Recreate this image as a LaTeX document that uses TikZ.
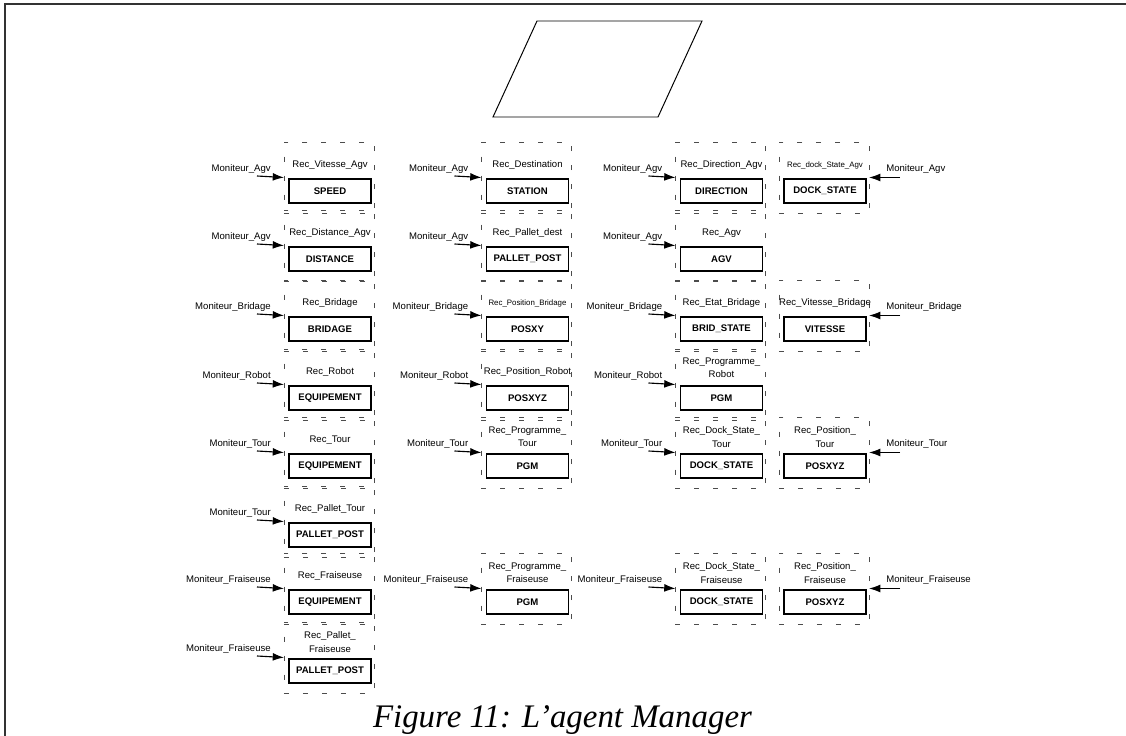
\documentclass[tikz,border=0pt]{standalone}
\usepackage{fontspec}
\setmainfont{Liberation Serif}
\setsansfont{Liberation Sans}
\usetikzlibrary{calc,arrows.meta}

% one receiver: inner state box, dashed receiver frame and its title
% #1 title offset, #2 name, #3 x, #4 y, #5 title, #6 state
\newcommand{\recv}[6][26]{%
  \node[core] (#2) at (#3,#4) {#6};
  \node[frame] (#2-f) at (#3-1,#4-13.5) {};
  \node[rtitle] (#2-t) at (#3,#4-#1) {#5};
}
% monitor feeding a receiver from the left
\newcommand{\monL}[2]{%
  \coordinate (#1-s) at ($(#1-f.west)+(-27,-1.5)$);
  \node[mon, anchor=south east] (#1-m) at ($(#1-f.west)+(-13,-4)$) {#2};
  \draw[feed] (#1-s) -- (#1-f.west);
}
% monitor feeding a receiver from the right
\newcommand{\monR}[2]{%
  \coordinate (#1-s) at ($(#1-f.east)+(31,0)$);
  \node[mon, anchor=south west] (#1-m) at ($(#1-f.east)+(17,-4)$) {#2};
  \draw[feed] (#1-s) -- (#1-f.east);
}

\begin{document}
\begin{tikzpicture}[x=0.025cm, y=-0.025cm,
  core/.style={draw, line width=1pt, minimum width=2.05cm, minimum height=0.6cm,
    inner sep=0pt, outer sep=0pt, font=\sffamily\bfseries\fontsize{6.8}{8}\selectfont},
  frame/.style={draw=black!70, line width=0.6pt, dash pattern=on 3.5pt off 10pt,
    minimum width=2.25cm, minimum height=1.775cm, inner sep=0pt, outer sep=0pt},
  rtitle/.style={inner sep=0pt, align=center, font=\sffamily\fontsize{6.8}{9.6}\selectfont},
  mon/.style={inner sep=0pt, font=\sffamily\fontsize{6.8}{8}\selectfont},
  feed/.style={line width=0.8pt, -{Latex[length=8pt, width=5.6pt]}}]
\useasboundingbox (0,0) rectangle (1126,736);
\fill[white] (0,0) rectangle (1126,736);

% page frame
\draw[line width=1.4pt, black!80] (5,736) -- (5,4) -- (1126,4);

% data symbol at the top
\draw[line width=0.7pt] (537,21) -- (702,21) -- (658,117) -- (493,117) -- cycle;

% row 1 : AGV
\recv{speed}{330}{191}{Rec\_Vitesse\_Agv}{SPEED}
\recv{station}{527.5}{191}{Rec\_Destination}{STATION}
\recv{direction}{721.5}{191}{Rec\_Direction\_Agv}{DIRECTION}
\recv{dockagv}{825}{191}{{\fontsize{5.6}{7}\selectfont Rec\_dock\_State\_Agv}}{DOCK\_STATE}
\monL{speed}{Moniteur\_Agv}
\monL{station}{Moniteur\_Agv}
\monL{direction}{Moniteur\_Agv}
\monR{dockagv}{Moniteur\_Agv}

% row 2 : AGV
\recv{distance}{330}{259}{Rec\_Distance\_Agv}{DISTANCE}
\recv{palletagv}{527.5}{259}{Rec\_Pallet\_dest}{PALLET\_POST}
\recv{agv}{721.5}{259}{Rec\_Agv}{AGV}
\monL{distance}{Moniteur\_Agv}
\monL{palletagv}{Moniteur\_Agv}
\monL{agv}{Moniteur\_Agv}

% row 3 : bridage
\recv{bridage}{330}{329}{Rec\_Bridage}{BRIDAGE}
\recv{posxy}{527.5}{329}{{\fontsize{5.6}{7}\selectfont Rec\_Position\_Bridage}}{POSXY}
\recv{bridstate}{721.5}{329}{Rec\_Etat\_Bridage}{BRID\_STATE}
\recv{vitesse}{825}{329}{Rec\_Vitesse\_Bridage}{VITESSE}
\monL{bridage}{Moniteur\_Bridage}
\monL{posxy}{Moniteur\_Bridage}
\monL{bridstate}{Moniteur\_Bridage}
\monR{vitesse}{Moniteur\_Bridage}

% row 4 : robot
\recv{equiprobot}{330}{398}{Rec\_Robot}{EQUIPEMENT}
\recv{posrobot}{527.5}{398}{Rec\_Position\_Robot}{POSXYZ}
\recv[30]{pgmrobot}{721.5}{398}{Rec\_Programme\_\\Robot}{PGM}
\monL{equiprobot}{Moniteur\_Robot}
\monL{posrobot}{Moniteur\_Robot}
\monL{pgmrobot}{Moniteur\_Robot}

% row 5 : tour
\recv{equiptour}{330}{466}{Rec\_Tour}{EQUIPEMENT}
\recv[29]{pgmtour}{527.5}{466}{Rec\_Programme\_\\Tour}{PGM}
\recv[29]{docktour}{721.5}{466}{Rec\_Dock\_State\_\\Tour}{DOCK\_STATE}
\recv[29]{postour}{825}{466}{Rec\_Position\_\\Tour}{POSXYZ}
\monL{equiptour}{Moniteur\_Tour}
\monL{pgmtour}{Moniteur\_Tour}
\monL{docktour}{Moniteur\_Tour}
\monR{postour}{Moniteur\_Tour}

% row 6 : tour
\recv{pallettour}{330}{535}{Rec\_Pallet\_Tour}{PALLET\_POST}
\monL{pallettour}{Moniteur\_Tour}

% row 7 : fraiseuse
\recv{equipfr}{330}{602}{Rec\_Fraiseuse}{EQUIPEMENT}
\recv[29]{pgmfr}{527.5}{602}{Rec\_Programme\_\\Fraiseuse}{PGM}
\recv[29]{dockfr}{721.5}{602}{Rec\_Dock\_State\_\\Fraiseuse}{DOCK\_STATE}
\recv[29]{posfr}{825}{602}{Rec\_Position\_\\Fraiseuse}{POSXYZ}
\monL{equipfr}{Moniteur\_Fraiseuse}
\monL{pgmfr}{Moniteur\_Fraiseuse}
\monL{dockfr}{Moniteur\_Fraiseuse}
\monR{posfr}{Moniteur\_Fraiseuse}

% row 8 : fraiseuse
\recv[29]{palletfr}{330}{671}{Rec\_Pallet\_\\Fraiseuse}{PALLET\_POST}
\monL{palletfr}{Moniteur\_Fraiseuse}

% caption
\node[anchor=base, inner sep=0pt, font=\itshape\fontsize{23.4}{28}\selectfont]
  (caption) at (562.5,727) {Figure 11: L'agent Manager};
\end{tikzpicture}
\end{document}
